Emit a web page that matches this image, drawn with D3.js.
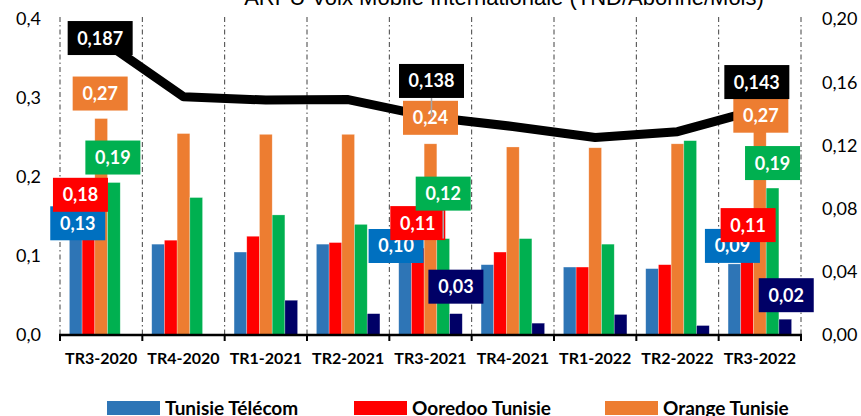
<!DOCTYPE html>
<html>
<head>
<meta charset="utf-8">
<script src="https://cdn.jsdelivr.net/npm/d3@7"></script>
<style>
  html, body { margin: 0; padding: 0; background: #fff; }
  svg { display: block; }
</style>
</head>
<body>
<svg id="chart" width="861" height="416"></svg>
<script>
// ---------- data ----------
const title = "ARPU Voix Mobile Internationale (TND/Abonné/Mois)";
const categories = ["TR3-2020","TR4-2020","TR1-2021","TR2-2021","TR3-2021","TR4-2021","TR1-2022","TR2-2022","TR3-2022"];
const seriesNames = ["Tunisie Télécom","Ooredoo Tunisie","Orange Tunisie","Lycamobile","Autres"];
const tunisieTelecom = [0.130,0.115,0.105,0.115,0.100,0.089,0.086,0.084,0.090];
const ooredooTunisie = [0.180,0.120,0.125,0.117,0.110,0.105,0.086,0.089,0.110];
const orangeTunisie  = [0.274,0.255,0.254,0.254,0.242,0.238,0.237,0.242,0.270];
const lycamobile     = [0.193,0.174,0.152,0.140,0.122,0.122,0.115,0.246,0.186];
const autres         = [null,null,0.044,0.027,0.027,0.015,0.026,0.012,0.020];
const moyenne        = [0.187,0.1508,0.1487,0.149,0.138,0.132,0.125,0.1287,0.143];
const leftTicks  = [0,0.1,0.2,0.3,0.4];
const rightTicks = [0,0.04,0.08,0.12,0.16,0.20];
const legendItems = ["Tunisie Télécom","Ooredoo Tunisie","Orange Tunisie"];

// data labels: series index (5 = line), category index, layout offset
const dataLabels = [
  {s:0,c:0,dx:2,dy:-9},{s:1,c:0,dx:-8,dy:2},{s:2,c:0,dx:-1,dy:-25},{s:3,c:0,dx:-1,dy:-25},{s:5,c:0,dx:-1,dy:-1.5},
  {s:0,c:4,dx:-9,dy:-10},{s:1,c:4,dx:0,dy:-25},{s:2,c:4,dx:0,dy:-26},{s:3,c:4,dx:0,dy:-45,leader:true},{s:4,c:4,dx:0,dy:-27},{s:5,c:4,dx:1,dy:-36,leader:true},
  {s:0,c:8,dx:-2,dy:-18},{s:1,c:8,dx:1,dy:-23},{s:2,c:8,dx:1,dy:-6},{s:3,c:8,dx:0,dy:-25},{s:4,c:8,dx:1,dy:-24},{s:5,c:8,dx:-3,dy:-27}
];

// ---------- styles ----------
const barColors   = ["#2E75B6","#FF0000","#ED7D31","#00B050","#000066"];
const labelColors = ["#0070C0","#FF0000","#ED7D31","#00B050","#000066","#000000"];
const FONT = "Lato, 'Noto Sans', sans-serif";

const series = [tunisieTelecom, ooredooTunisie, orangeTunisie, lycamobile, autres];

const svg = d3.select("#chart");
const plot = {left:60, right:801, top:19, bottom:335};

const x = d3.scaleBand().domain(categories).range([plot.left, plot.right]).padding(0);
const xs = d3.scaleBand().domain(d3.range(series.length)).range([0, x.bandwidth()])
  .paddingInner(0).paddingOuter(0.74);
const yL = d3.scaleLinear().domain([0,0.4]).range([plot.bottom, plot.top]);
const yR = d3.scaleLinear().domain([0,0.2]).range([plot.bottom, plot.top]);

// title
svg.append("text").attr("x", 504).attr("y", 5).attr("text-anchor","middle")
  .attr("font-family","'Liberation Sans', Arial, sans-serif").attr("font-size", 22)
  .attr("fill","#000").text(title);

// vertical dash-dot gridlines at category boundaries
const bounds = categories.map(c => x(c)).concat([plot.right]);
svg.append("g").selectAll("line").data(bounds).join("line")
  .attr("x1", d => d).attr("x2", d => d)
  .attr("y1", plot.top - 2).attr("y2", plot.bottom)
  .attr("stroke","#404040").attr("stroke-width",1)
  .attr("stroke-dasharray","5,3,1.5,3");

// bars
const gBars = svg.append("g");
series.forEach((vals, si) => {
  gBars.append("g").selectAll("rect")
    .data(vals.map((v,i)=>({v, c:categories[i]})).filter(d => d.v != null))
    .join("rect")
    .attr("x", d => x(d.c) + xs(si))
    .attr("width", xs.bandwidth())
    .attr("y", d => yL(d.v))
    .attr("height", d => yL(0) - yL(d.v))
    .attr("fill", barColors[si])
    .attr("stroke", "rgba(255,255,255,0.45)").attr("stroke-width", 0.6);
});

// x axis
svg.append("line").attr("x1", plot.left - 1).attr("x2", plot.right + 1)
  .attr("y1", plot.bottom).attr("y2", plot.bottom)
  .attr("stroke","#000").attr("stroke-width",2.5);
svg.append("g").selectAll("line").data(bounds).join("line")
  .attr("x1", d => d).attr("x2", d => d)
  .attr("y1", plot.bottom).attr("y2", plot.bottom + 6)
  .attr("stroke","#000").attr("stroke-width",2);
svg.append("g").selectAll("text").data(categories).join("text")
  .attr("x", d => x(d) + x.bandwidth()/2).attr("y", 364)
  .attr("text-anchor","middle").attr("font-family",FONT).attr("font-weight",700)
  .attr("font-size",16).attr("fill","#000").text(d => d);

// y axes labels
const fmt = (d, n) => d3.format("." + n + "f")(d).replace(".", ",");
svg.append("g").selectAll("text").data(leftTicks).join("text")
  .attr("x", 41).attr("y", d => yL(d)).attr("dy","0.36em")
  .attr("text-anchor","end").attr("font-family",FONT).attr("font-size",18)
  .attr("fill","#000").text(d => fmt(d,1));
svg.append("g").selectAll("text").data(rightTicks).join("text")
  .attr("x", 822).attr("y", d => yR(d)).attr("dy","0.36em")
  .attr("text-anchor","start").attr("font-family",FONT).attr("font-size",18)
  .attr("fill","#000").text(d => fmt(d,2));

// line
const line = d3.line()
  .x((d,i) => x(categories[i]) + x.bandwidth()/2)
  .y(d => yR(d));
svg.append("path").datum(moyenne).attr("d", line)
  .attr("fill","none").attr("stroke","#000").attr("stroke-width",9)
  .attr("stroke-linejoin","round");

// data labels
const gLab = svg.append("g");
dataLabels.forEach(l => {
  let px, py, txt;
  if (l.s === 5) {
    px = x(categories[l.c]) + x.bandwidth()/2;
    py = yR(moyenne[l.c]);
    txt = fmt(moyenne[l.c], 3);
  } else {
    const v = series[l.s][l.c];
    px = x(categories[l.c]) + xs(l.s) + xs.bandwidth()/2;
    py = yL(v);
    txt = fmt(v, 2);
  }
  const w = txt.length > 4 ? 65 : 55, h = 34;
  const cx = px + l.dx, cy = py + l.dy;
  if (l.leader && py > cy + h/2) {
    gLab.append("line").attr("x1", cx).attr("x2", cx)
      .attr("y1", cy + h/2).attr("y2", py)
      .attr("stroke","#A6A6A6").attr("stroke-width",1.5);
  }
  gLab.append("rect").attr("x", cx - w/2).attr("y", cy - h/2)
    .attr("width", w).attr("height", h).attr("fill", labelColors[l.s]);
  gLab.append("text").attr("x", cx).attr("y", cy).attr("dy","0.36em")
    .attr("text-anchor","middle").attr("font-family",FONT).attr("font-weight",700)
    .attr("font-size",18).attr("fill","#fff").text(txt);
});

// legend
const legendX = [107, 354, 605];
const gLeg = svg.append("g");
legendItems.forEach((name, i) => {
  gLeg.append("rect").attr("x", legendX[i]).attr("y", 401).attr("width", 53).attr("height", 14)
    .attr("fill", barColors[i]);
  gLeg.append("text").attr("x", legendX[i] + 58).attr("y", 415)
    .attr("font-family",FONT).attr("font-weight",700).attr("font-size",19)
    .attr("fill","#000").text(name);
});
</script>
</body>
</html>
